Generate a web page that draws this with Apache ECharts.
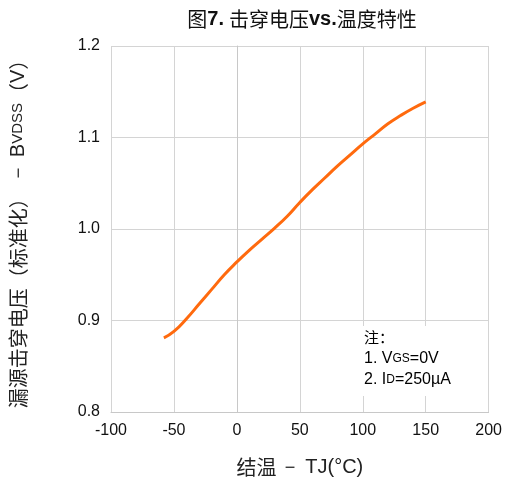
<!DOCTYPE html>
<html><head><meta charset="utf-8">
<script src="https://cdn.jsdelivr.net/npm/echarts@6/dist/echarts.min.js"></script>
<style>html,body{margin:0;padding:0;background:#fff}#c{width:505px;height:485px}</style>
</head><body><div id="c"></div>
<script>
var temps = [-58, -50, -40, -30, -20, -10, 0, 10, 20, 30, 40, 50, 60, 70, 80, 90, 100, 110, 120, 130, 140, 150];
var bvdss = [0.881, 0.888, 0.902, 0.918, 0.934, 0.950, 0.964, 0.977, 0.989, 1.001, 1.014, 1.029, 1.043, 1.056, 1.069, 1.081, 1.093, 1.104, 1.115, 1.124, 1.132, 1.139];
var xTicks = [-100, -50, 0, 50, 100, 150, 200];
var yTicks = [0.8, 0.9, 1.0, 1.1, 1.2];

var sans = 'Liberation Sans, Arial, sans-serif';
var cjk = 'Noto Sans CJK SC, sans-serif';
var chart = echarts.init(document.getElementById('c'));
chart.setOption({
  animation: false,
  backgroundColor: '#fff',
  title: {
    text: '{c|图}{b|7.} {c|击穿电压}{b|vs.}{c|温度特性}',
    left: 297, top: 4, textAlign: 'center',
    textStyle: {
      rich: {
        c: {fontFamily: cjk, fontSize: 20, color: '#111', fontWeight: 'normal'},
        b: {fontFamily: sans, fontSize: 20, color: '#111', fontWeight: 'bold'}
      }
    }
  },
  grid: {left: 110, right: 15, top: 46, bottom: 73},
  xAxis: {
    type: 'value', min: -100, max: 200, interval: 50,
    name: '{c|结温} {s|－ TJ(°C)}', nameLocation: 'middle', nameGap: 45,
    nameTextStyle: {rich: {
      c: {fontFamily: cjk, fontSize: 20, color: '#222', fontWeight: 'normal'},
      s: {fontFamily: sans, fontSize: 20, color: '#222'}
    }},
    axisLine: {show: true, lineStyle: {color: '#c8c8c8', width: 1}},
    axisTick: {show: false},
    axisLabel: {fontFamily: sans, fontSize: 16, color: '#111', margin: 11,
      formatter: function (v) { return xTicks.indexOf(v) >= 0 ? String(v) : ''; }},
    splitLine: {show: true, lineStyle: {color: '#d4d4d4', width: 1}}
  },
  yAxis: {
    type: 'value', min: 0.8, max: 1.2, interval: 0.1,
    name: '{c|漏源击穿电压（标准化）}{s| － B}{t|VDSS}{c|（}{s|V}{c|）}',
    nameLocation: 'middle', nameRotate: 90, nameGap: 83,
    nameTextStyle: {rich: {
      c: {fontFamily: cjk, fontSize: 20, color: '#222', fontWeight: 'normal'},
      s: {fontFamily: sans, fontSize: 20, color: '#222'},
      t: {fontFamily: sans, fontSize: 15, color: '#222'}
    }},
    axisLine: {show: true, lineStyle: {color: '#c8c8c8', width: 1}},
    axisTick: {show: false},
    axisLabel: {fontFamily: sans, fontSize: 16, color: '#111', margin: 11,
      formatter: function (v) { return v.toFixed(1); }},
    splitLine: {show: true, lineStyle: {color: '#d4d4d4', width: 1}}
  },
  series: [{
    type: 'line', smooth: true, symbol: 'none',
    lineStyle: {color: '#ff6a0e', width: 3},
    data: temps.map(function (t, i) { return [t, bvdss[i]]; }),
    z: 3
  }],
  graphic: [{
    type: 'rect', shape: {x: 358, y: 326, width: 112, height: 70},
    style: {fill: '#fff'}, z: 1
  }, {
    type: 'text', left: 364, top: 330, z: 2,
    style: {
      text: '{c|注：}\n{s|1. V}{t|GS}{s|=0V}\n{s|2. I}{t|D}{s|=250µA}',
      rich: {
        c: {fontFamily: cjk, fontSize: 15, color: '#222', lineHeight: 21, fontWeight: 'normal'},
        s: {fontFamily: sans, fontSize: 16, color: '#111', lineHeight: 21},
        t: {fontFamily: sans, fontSize: 12, color: '#111', lineHeight: 21}
      }
    }
  }]
});
</script></body></html>
